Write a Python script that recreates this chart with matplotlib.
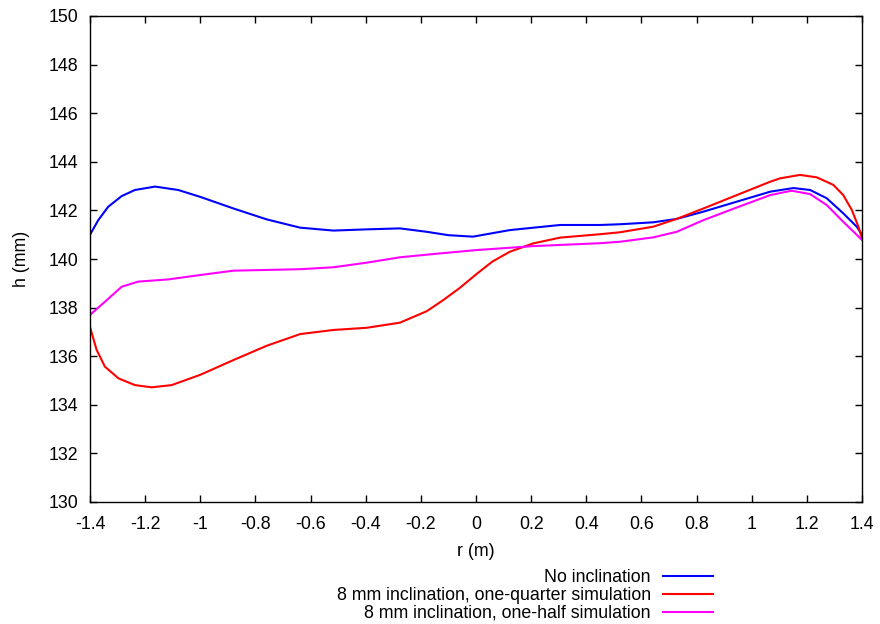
import matplotlib
matplotlib.use("Agg")
import matplotlib.pyplot as plt

plt.rcParams['font.family'] = ['Liberation Sans', 'DejaVu Sans']
plt.rcParams['font.size'] = 12.8

# values
r_blue = [-1.4, -1.37, -1.334, -1.285, -1.237, -1.164, -1.08, -1.001, -0.88, -0.759, -0.638, -0.517,
          -0.396, -0.276, -0.179, -0.1, -0.011, 0.123, 0.305, 0.45, 0.522, 0.643, 0.728, 0.825,
          0.946, 1.067, 1.151, 1.212, 1.272, 1.332, 1.381, 1.4]
h_blue = [141.0, 141.6, 142.15, 142.59, 142.84, 142.98, 142.84, 142.56, 142.08, 141.63, 141.29, 141.17,
          141.22, 141.26, 141.12, 140.98, 140.92, 141.19, 141.4, 141.4, 141.43, 141.51, 141.65, 141.95,
          142.36, 142.77, 142.92, 142.84, 142.5, 141.88, 141.33, 141.0]

r_red = [-1.4, -1.376, -1.346, -1.297, -1.237, -1.176, -1.104, -1.001, -0.88, -0.759, -0.638, -0.517,
         -0.396, -0.276, -0.179, -0.12, -0.06, 0.004, 0.06, 0.123, 0.207, 0.305, 0.45, 0.522, 0.643,
         0.728, 0.825, 0.946, 1.067, 1.103, 1.175, 1.236, 1.296, 1.332, 1.363, 1.387, 1.4]
h_red = [137.2, 136.26, 135.57, 135.09, 134.81, 134.72, 134.81, 135.23, 135.84, 136.43, 136.91, 137.08,
         137.17, 137.38, 137.85, 138.3, 138.8, 139.4, 139.9, 140.3, 140.64, 140.88, 141.02, 141.1, 141.33,
         141.65, 142.08, 142.63, 143.18, 143.32, 143.46, 143.36, 143.05, 142.63, 142.02, 141.33, 140.85]

r_mag = [-1.4, -1.346, -1.285, -1.225, -1.116, -1.001, -0.88, -0.759, -0.638, -0.517, -0.396, -0.276,
         -0.14, 0.004, 0.207, 0.45, 0.522, 0.643, 0.728, 0.825, 0.946, 1.067, 1.145, 1.212, 1.272,
         1.332, 1.375, 1.4]
h_mag = [137.7, 138.24, 138.86, 139.07, 139.16, 139.34, 139.52, 139.55, 139.58, 139.66, 139.85, 140.07,
         140.22, 140.37, 140.53, 140.65, 140.71, 140.89, 141.12, 141.6, 142.12, 142.63, 142.81, 142.67, 142.22,
         141.53, 141.06, 140.78]

labels = ["No inclination",
          "8 mm inclination, one-quarter simulation",
          "8 mm inclination, one-half simulation"]

xticks = [-1.4, -1.2, -1, -0.8, -0.6, -0.4, -0.2, 0, 0.2, 0.4, 0.6, 0.8, 1, 1.2, 1.4]
yticks = [130, 132, 134, 136, 138, 140, 142, 144, 146, 148, 150]

fig = plt.figure(figsize=(8.8, 6.24), dpi=100)
ax = fig.add_axes([90/880, 122/624, 772/880, 486/624])

ax.plot(r_blue, h_blue, color='#0000ff', lw=1.5, label=labels[0])
ax.plot(r_red, h_red, color='#ff0000', lw=1.5, label=labels[1])
ax.plot(r_mag, h_mag, color='#ff00ff', lw=1.5, label=labels[2])

ax.set_xlim(-1.4, 1.4)
ax.set_ylim(130, 150)
ax.set_xticks(xticks)
ax.set_xticklabels(['%g' % t for t in xticks])
ax.set_yticks(yticks)
ax.set_yticklabels(['%g' % t for t in yticks])
ax.tick_params(direction='in', length=5, top=True, right=True, width=1)
ax.tick_params(axis='x', pad=10)
ax.tick_params(axis='y', pad=8.5)
for s in ax.spines.values():
    s.set_linewidth(1)

ax.set_xlabel("r (m)", labelpad=7.5)
ax.set_ylabel("h (mm)", labelpad=13)

fig.legend(loc='upper right', bbox_to_anchor=(713/880, 1 - 569/624), markerfirst=False,
           frameon=False, handlelength=2.8, handletextpad=0.7, labelspacing=0.05,
           borderpad=0, borderaxespad=0)

fig.savefig("out.png", dpi=100)
